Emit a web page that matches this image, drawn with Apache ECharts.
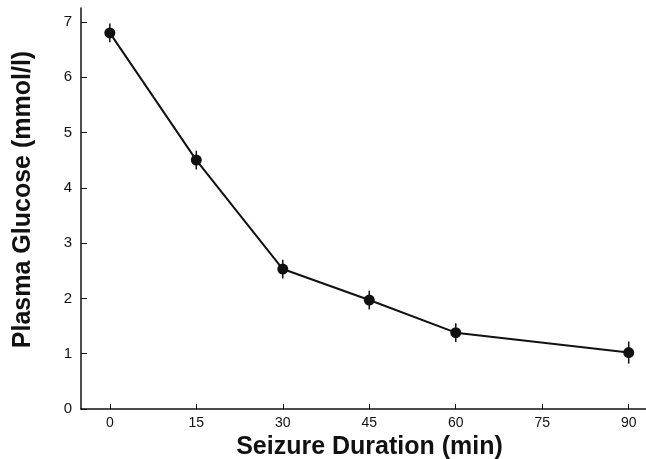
<!DOCTYPE html>
<html>
<head>
<meta charset="utf-8">
<script src="https://cdn.jsdelivr.net/npm/echarts@6/dist/echarts.min.js"></script>
<style>
  html, body { margin: 0; padding: 0; background: #fff; }
  #chart { width: 646px; height: 459px; }
</style>
</head>
<body>
<div id="chart"></div>
<script>
  // seizure duration (min) and mean plasma glucose (mmol/l)
  const minutes = [0, 15, 30, 45, 60, 90];
  const glucose = [6.8, 4.5, 2.53, 1.97, 1.38, 1.02];
  const errors = [0.17, 0.17, 0.17, 0.17, 0.17, 0.2];
  const xTicks = [0, 15, 30, 45, 60, 75, 90];
  const yTicks = [0, 1, 2, 3, 4, 5, 6, 7];

  const chart = echarts.init(document.getElementById('chart'));
  const font = 'Liberation Sans, Arial, Helvetica, sans-serif';

  chart.setOption({
    animation: false,
    grid: { left: 81, right: 0, top: 8, bottom: 50, outerBoundsMode: 'none' },
    xAxis: {
      type: 'value',
      min: -5,
      max: 93,
      name: 'Seizure Duration (min)',
      nameLocation: 'middle',
      nameGap: 22,
      nameTextStyle: { fontFamily: font, fontWeight: 'bold', fontSize: 25, color: '#111', padding: [0, 0, 0, 12] },
      axisLine: { onZero: false, lineStyle: { color: '#111', width: 1.5 } },
      axisTick: { inside: true, length: 5, customValues: xTicks, lineStyle: { color: '#111' } },
      axisLabel: { customValues: xTicks, fontFamily: font, fontSize: 14, color: '#111', margin: 7 },
      splitLine: { show: false }
    },
    yAxis: {
      type: 'value',
      min: 0,
      max: 7.25,
      name: 'Plasma Glucose (mmol/l)',
      nameLocation: 'middle',
      nameGap: 45,
      nameTextStyle: { fontFamily: font, fontWeight: 'bold', fontSize: 25, color: '#111', padding: [0, 0, 0, 18] },
      axisLine: { show: true, onZero: false, lineStyle: { color: '#111', width: 1.5 } },
      axisTick: { show: true, inside: true, length: 6, customValues: yTicks, lineStyle: { color: '#111' } },
      axisLabel: { customValues: yTicks, fontFamily: font, fontSize: 15, color: '#111', margin: 9 },
      splitLine: { show: false }
    },
    series: [
      {
        type: 'custom',
        data: minutes.map((m, i) => [m, glucose[i] - errors[i], glucose[i] + errors[i]]),
        renderItem: (params, api) => {
          const lo = api.coord([api.value(0), api.value(1)]);
          const hi = api.coord([api.value(0), api.value(2)]);
          return {
            type: 'line',
            shape: { x1: lo[0], y1: lo[1], x2: hi[0], y2: hi[1] },
            style: { stroke: '#111', lineWidth: 1.5 }
          };
        },
        z: 3
      },
      {
        type: 'line',
        data: minutes.map((m, i) => [m, glucose[i]]),
        symbol: 'circle',
        symbolSize: 11,
        lineStyle: { color: '#111', width: 2 },
        itemStyle: { color: '#111' },
        z: 4
      }
    ]
  });
</script>
</body>
</html>
